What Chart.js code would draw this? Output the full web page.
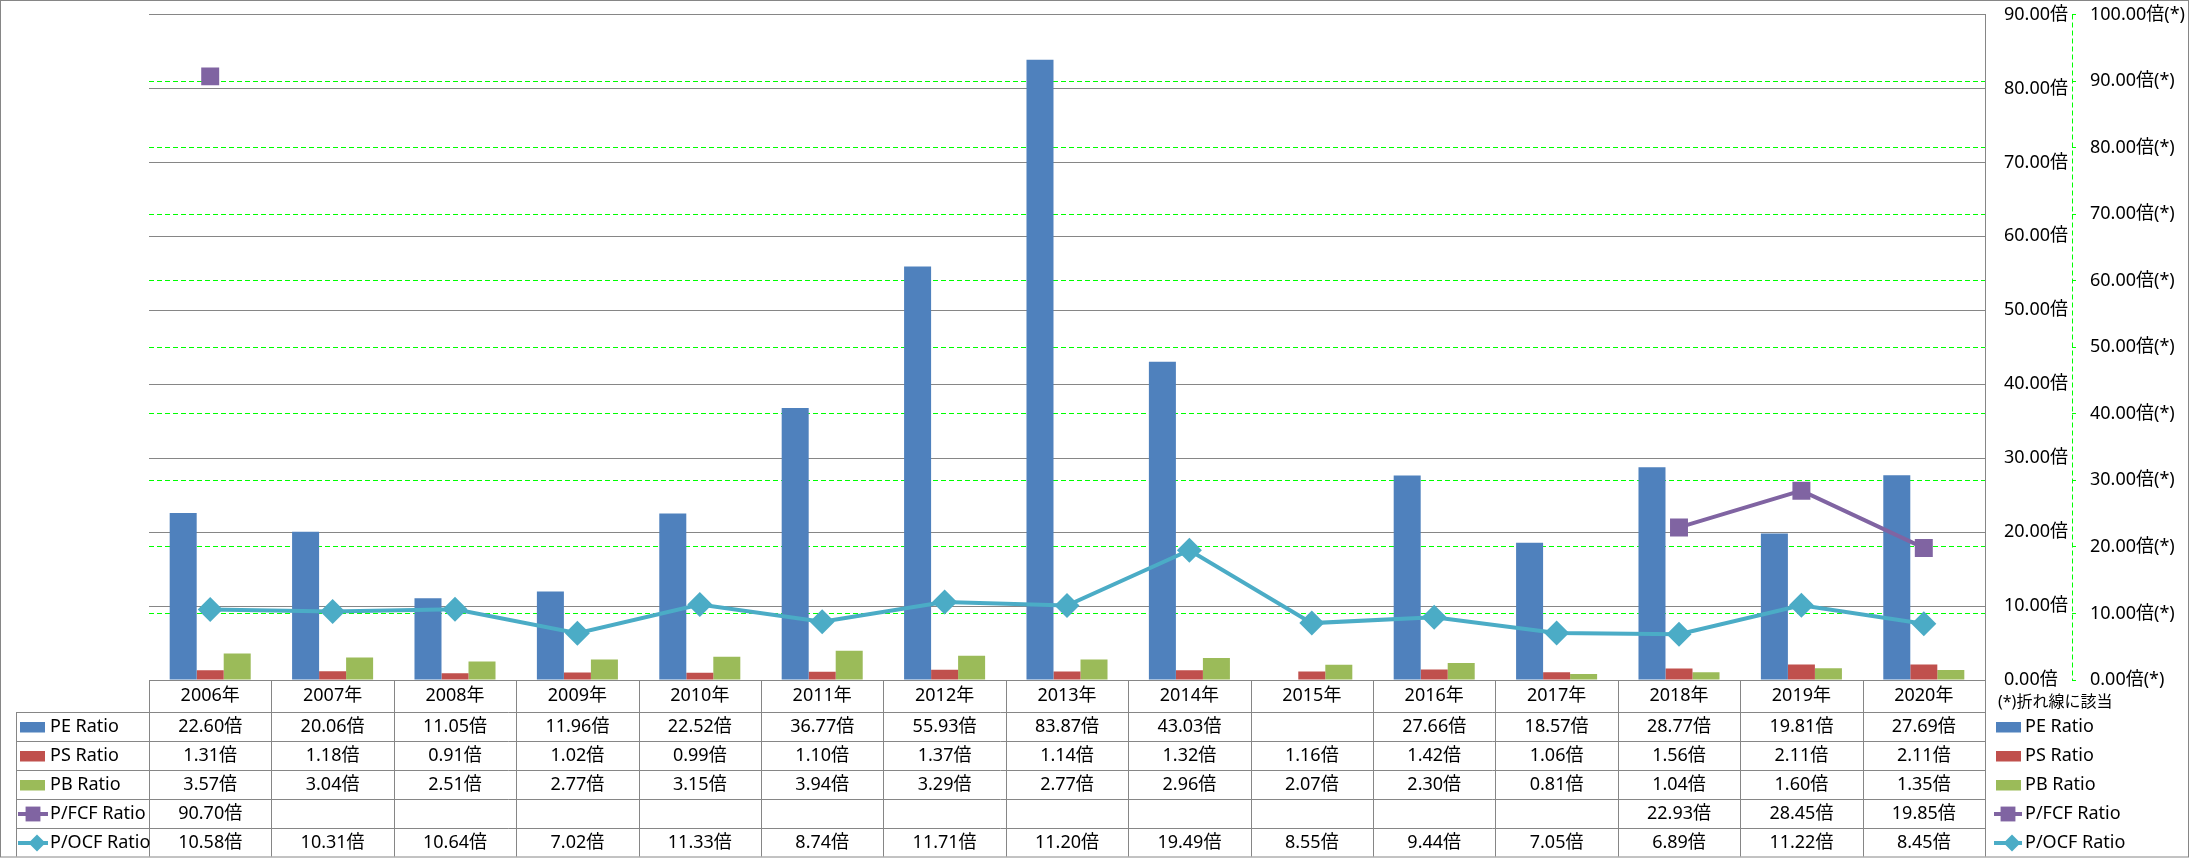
<!DOCTYPE html>
<html><head><meta charset="utf-8">
<script src="https://cdn.jsdelivr.net/npm/chart.js@4.4.0/dist/chart.umd.min.js"></script>
<style>html,body{margin:0;padding:0;background:#fff;overflow:hidden}canvas{display:block}</style>
</head><body>
<canvas id="c" width="2191" height="858"></canvas>
<script>
// ---- data ----
const categories = ['2006年','2007年','2008年','2009年','2010年','2011年','2012年','2013年','2014年','2015年','2016年','2017年','2018年','2019年','2020年'];
const peRatio   = [22.60, 20.06, 11.05, 11.96, 22.52, 36.77, 55.93, 83.87, 43.03, null, 27.66, 18.57, 28.77, 19.81, 27.69];
const psRatio   = [1.31, 1.18, 0.91, 1.02, 0.99, 1.10, 1.37, 1.14, 1.32, 1.16, 1.42, 1.06, 1.56, 2.11, 2.11];
const pbRatio   = [3.57, 3.04, 2.51, 2.77, 3.15, 3.94, 3.29, 2.77, 2.96, 2.07, 2.30, 0.81, 1.04, 1.60, 1.35];
const pfcfRatio = [90.70, null, null, null, null, null, null, null, null, null, null, null, 22.93, 28.45, 19.85];
const pocfRatio = [10.58, 10.31, 10.64, 7.02, 11.33, 8.74, 11.71, 11.20, 19.49, 8.55, 9.44, 7.05, 6.89, 11.22, 8.45];
const seriesNames = ['PE Ratio', 'PS Ratio', 'PB Ratio', 'P/FCF Ratio', 'P/OCF Ratio'];
const barUnit = '倍';
const lineUnit = '倍(*)';
const noteText = '(*)折れ線に該当';
const leftAxis = { min: 0, max: 90, step: 10 };
const rightAxis = { min: 0, max: 100, step: 10 };

// ---- style ----
const FONT = '"Noto Sans", "Noto Sans CJK JP", sans-serif';
const GRID = '#868686';
const COLORS = ['#4F81BD', '#C0504D', '#9BBB59', '#8064A2', '#4BACC6'];
Chart.defaults.font.family = FONT;
Chart.defaults.color = '#000';

function drawMarker(ctx, style, x, y, r, color) {
  ctx.fillStyle = color;
  ctx.beginPath();
  if (style === 'rect') {
    const h = r * Math.SQRT1_2;
    ctx.rect(x - h, y - h, 2 * h, 2 * h);
  } else {
    ctx.moveTo(x, y - r); ctx.lineTo(x + r, y); ctx.lineTo(x, y + r); ctx.lineTo(x - r, y); ctx.closePath();
  }
  ctx.fill();
}

function drawKey(ctx, chart, i, x0, cy, len) {
  const ds = chart.data.datasets[i];
  const color = COLORS[i];
  if (ds.type === 'bar') {
    ctx.fillStyle = color;
    ctx.fillRect(x0 + 2, cy - 5, 25, 10.5);
  } else {
    ctx.strokeStyle = color; ctx.lineWidth = 4;
    ctx.beginPath(); ctx.moveTo(x0, cy); ctx.lineTo(x0 + len, cy); ctx.stroke();
    if (ds.pointStyle === 'rect') drawMarker(ctx, 'rect', x0 + len / 2, cy, 10.5, color);
    else drawMarker(ctx, 'rectRot', x0 + len / 2 + 4, cy, 8.5, color);
  }
}

const tablePlugin = {
  id: 'dataTable',
  afterDraw(chart) {
    const ctx = chart.ctx, ca = chart.chartArea, xs = chart.scales.x, y2 = chart.scales.y2;
    const n = categories.length;
    const step = xs.getPixelForValue(1) - xs.getPixelForValue(0);
    const top = ca.bottom;
    const headerH = 32, rowH = 29;
    const rows = [peRatio, psRatio, pbRatio, pfcfRatio, pocfRatio];
    const bottom = 856.5;
    const labelLeft = 16;
    ctx.save();
    // secondary axis line (dashed)
    ctx.strokeStyle = '#00FF00'; ctx.lineWidth = 1; ctx.setLineDash([5, 3]);
    const ax = Math.round(y2.left) + 0.5;
    ctx.beginPath(); ctx.moveTo(ax, ca.top); ctx.lineTo(ax, ca.bottom); ctx.stroke();
    ctx.setLineDash([]);
    // data table grid
    ctx.strokeStyle = GRID; ctx.lineWidth = 1;
    ctx.beginPath();
    for (let r = 0; r < rows.length; r++) {
      const yy = Math.round(top + headerH + r * rowH) + 0.5;
      ctx.moveTo(labelLeft, yy); ctx.lineTo(ca.right, yy);
    }
    for (let i = 0; i <= n; i++) {
      const xx = Math.round(xs.getPixelForValue(0) - step / 2 + i * step) + 0.5;
      ctx.moveTo(xx, top); ctx.lineTo(xx, bottom);
    }
    ctx.moveTo(labelLeft + 0.5, top + headerH); ctx.lineTo(labelLeft + 0.5, bottom);
    ctx.stroke();
    // outer border
    ctx.strokeRect(0.5, 0.5, chart.width - 3, chart.height - 1.5);
    // table texts
    ctx.fillStyle = '#000';
    ctx.font = '18px ' + FONT;
    ctx.textAlign = 'center'; ctx.textBaseline = 'middle';
    for (let i = 0; i < n; i++) {
      const cx = xs.getPixelForValue(i);
      ctx.fillText(categories[i], cx, top + headerH / 2);
      rows.forEach((arr, r) => {
        const v = arr[i];
        if (v == null) return;
        ctx.fillText(v.toFixed(2) + barUnit, cx, top + headerH + r * rowH + rowH / 2 + 0.5);
      });
    }
    // row headers + right legend
    seriesNames.forEach((name, r) => {
      const cy = top + headerH + r * rowH + rowH / 2 + 0.5;
      drawKey(ctx, chart, r, 18, cy, 30);
      drawKey(ctx, chart, r, 1994, cy, 28);
      ctx.fillStyle = '#000'; ctx.font = '18px ' + FONT;
      ctx.textAlign = 'left'; ctx.textBaseline = 'middle';
      ctx.fillText(name, 50, cy);
      ctx.fillText(name, 2025, cy);
    });
    ctx.font = '16px ' + FONT;
    ctx.textAlign = 'left';
    ctx.fillText(noteText, 1998, 702);
    ctx.restore();
  }
};

new Chart(document.getElementById('c'), {
  type: 'bar',
  data: {
    labels: categories,
    datasets: [
      { type: 'bar', label: seriesNames[0], data: peRatio, backgroundColor: COLORS[0], yAxisID: 'y', order: 1 },
      { type: 'bar', label: seriesNames[1], data: psRatio, backgroundColor: COLORS[1], yAxisID: 'y', order: 1 },
      { type: 'bar', label: seriesNames[2], data: pbRatio, backgroundColor: COLORS[2], yAxisID: 'y', order: 1 },
      { type: 'line', label: seriesNames[3], data: pfcfRatio, borderColor: COLORS[3], backgroundColor: COLORS[3],
        borderWidth: 4, pointStyle: 'rect', pointRadius: 12.7, pointBorderWidth: 0, pointBackgroundColor: COLORS[3],
        yAxisID: 'y2', order: 0, spanGaps: false, tension: 0 },
      { type: 'line', label: seriesNames[4], data: pocfRatio, borderColor: COLORS[4], backgroundColor: COLORS[4],
        borderWidth: 4, pointStyle: 'rectRot', pointRadius: 12.5, pointBorderWidth: 0, pointBackgroundColor: COLORS[4],
        yAxisID: 'y2', order: 0, spanGaps: false, tension: 0 }
    ]
  },
  options: {
    responsive: false, animation: false, devicePixelRatio: 1,
    layout: { padding: { left: 149, top: 14.5, right: 0, bottom: 178 } },
    plugins: { legend: { display: false }, tooltip: { enabled: false } },
    datasets: { bar: { barPercentage: 1, categoryPercentage: 0.662 } },
    scales: {
      x: { type: 'category', display: false, offset: true },
      y: {
        type: 'linear', position: 'right', weight: 1,
        min: leftAxis.min, max: leftAxis.max,
        ticks: { stepSize: leftAxis.step, padding: 19, font: { size: 18 }, color: '#000',
          callback: v => v.toFixed(2) + barUnit },
        grid: { color: GRID, lineWidth: 1, drawTicks: false },
        border: { display: true, color: GRID, width: 1 },
        afterFit: s => { s.width = 87; s.paddingTop = 0; s.paddingBottom = 0; }
      },
      y2: {
        type: 'linear', position: 'right', weight: 2,
        min: rightAxis.min, max: rightAxis.max,
        ticks: { stepSize: rightAxis.step, padding: 14, font: { size: 18 }, color: '#000',
          callback: v => v.toFixed(2) + lineUnit },
        grid: {
          color: c => (c.tick && (c.tick.value === rightAxis.min || c.tick.value === rightAxis.max)) ? 'rgba(0,0,0,0)' : '#00FF00',
          tickColor: '#00FF00', tickLength: 4, drawTicks: true, lineWidth: 1
        },
        border: { display: false, dash: [5, 3] },
        afterFit: s => { s.width = 119; s.paddingTop = 0; s.paddingBottom = 0; }
      }
    }
  },
  plugins: [tablePlugin]
});
</script>
</body></html>
